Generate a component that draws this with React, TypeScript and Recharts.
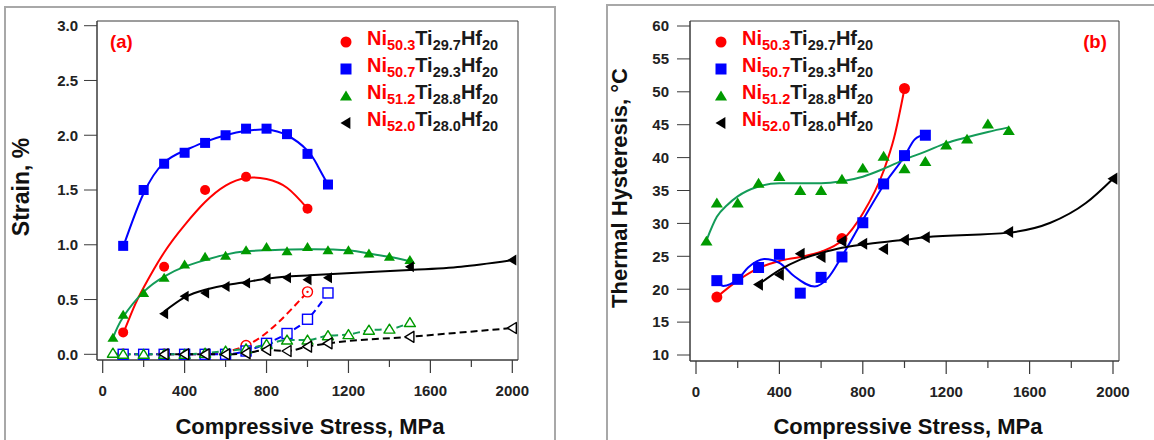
import { ComposedChart, Legend, Line, ReferenceArea, Scatter, XAxis, YAxis } from "recharts";

type Pair = [number, number];
type Kind = "circle" | "square" | "triangle" | "left";

const FONT = "'Liberation Sans', Arial, sans-serif";
const AXIS = "#3a3a3a";

// shared ticks
const stressTicks = [0, 200, 400, 600, 800, 1000, 1200, 1400, 1600, 1800, 2000];
const strainTicks = [0, 0.5, 1, 1.5, 2, 2.5, 3];
const hysteresisTicks = [10, 15, 20, 25, 30, 35, 40, 45, 50, 55, 60];

// (a) strain vs stress, solid markers = transformation strain, open = irrecoverable
const strain503: Pair[] = [[100, 0.2], [300, 0.8], [500, 1.5], [700, 1.62], [1000, 1.33]];
const strainFit503: Pair[] = [[100, 0.19], [150, 0.42], [200, 0.61], [300, 0.93], [400, 1.18], [500, 1.39], [600, 1.54], [700, 1.61], [800, 1.6], [900, 1.52], [1000, 1.33]];
const irrec503: Pair[] = [[100, 0], [300, 0], [500, 0], [700, 0.08], [1000, 0.57]];

const strain507: Pair[] = [[100, 0.99], [200, 1.5], [300, 1.74], [400, 1.84], [500, 1.93], [600, 2.0], [700, 2.06], [800, 2.06], [900, 2.01], [1000, 1.83], [1100, 1.55]];
const strainFit507: Pair[] = [[100, 0.98], [200, 1.47], [300, 1.75], [400, 1.86], [500, 1.94], [600, 2.0], [700, 2.04], [800, 2.05], [900, 2.0], [1000, 1.86], [1050, 1.72], [1100, 1.55]];
const irrec507: Pair[] = [[100, 0], [200, 0], [300, 0], [400, 0], [500, 0], [600, 0], [700, 0.03], [800, 0.1], [900, 0.19], [1000, 0.32], [1100, 0.56]];

const strain512: Pair[] = [[50, 0.15], [100, 0.36], [200, 0.56], [300, 0.7], [400, 0.82], [500, 0.89], [600, 0.9], [700, 0.95], [800, 0.98], [900, 0.94], [1000, 0.98], [1100, 0.95], [1200, 0.95], [1300, 0.92], [1400, 0.89], [1500, 0.86]];
const strainFit512: Pair[] = [[50, 0.15], [100, 0.34], [200, 0.57], [300, 0.71], [400, 0.8], [500, 0.86], [600, 0.91], [700, 0.94], [800, 0.95], [1000, 0.96], [1200, 0.95], [1300, 0.92], [1400, 0.89], [1500, 0.85]];
const irrec512: Pair[] = [[50, 0.01], [100, 0], [200, 0], [300, 0], [400, 0], [500, 0.01], [600, 0.03], [700, 0.05], [800, 0.09], [900, 0.13], [1000, 0.13], [1100, 0.17], [1200, 0.18], [1300, 0.22], [1400, 0.23], [1500, 0.29]];

const strain520: Pair[] = [[300, 0.37], [400, 0.53], [500, 0.56], [600, 0.62], [700, 0.65], [800, 0.69], [900, 0.7], [1000, 0.68], [1100, 0.7], [1500, 0.8], [2000, 0.86]];
const strainFit520: Pair[] = [[300, 0.39], [400, 0.52], [500, 0.59], [600, 0.63], [700, 0.66], [800, 0.69], [900, 0.71], [1000, 0.72], [1100, 0.73], [1500, 0.77], [1750, 0.8], [2000, 0.86]];
const irrec520: Pair[] = [[300, 0], [400, 0], [500, 0], [600, 0], [700, 0.01], [800, 0.04], [900, 0.03], [1000, 0.07], [1100, 0.1], [1500, 0.16], [2000, 0.24]];

// (b) thermal hysteresis vs stress
const hyst503: Pair[] = [[100, 18.8], [700, 27.7], [1000, 50.5]];
const hystFit503: Pair[] = [[100, 18.8], [200, 21.3], [300, 23.2], [400, 24.3], [500, 24.9], [600, 25.7], [700, 27.4], [800, 31.5], [900, 38.0], [950, 43.0], [1000, 50.5]];

const hyst507: Pair[] = [[100, 21.3], [200, 21.5], [300, 23.3], [400, 25.3], [500, 19.4], [600, 21.8], [700, 24.9], [800, 30.1], [900, 36.0], [1000, 40.3], [1100, 43.4]];
const hystFit507: Pair[] = [[100, 21.3], [130, 20.5], [200, 21.5], [250, 23.3], [330, 24.6], [400, 24.0], [470, 22.0], [570, 20.4], [630, 21.6], [700, 25.0], [800, 30.5], [900, 35.8], [1000, 40.2], [1050, 42.8], [1100, 43.5]];

const hyst512: Pair[] = [[50, 27.3], [100, 33.1], [200, 33.1], [300, 36.1], [400, 37.1], [500, 35.0], [600, 35.0], [700, 36.7], [800, 38.4], [900, 40.2], [1000, 38.3], [1100, 39.4], [1200, 41.9], [1300, 42.8], [1400, 45.1], [1500, 44.1]];
const hystFit512: Pair[] = [[50, 27.4], [100, 31.0], [150, 32.8], [200, 34.1], [300, 35.6], [400, 36.1], [600, 36.1], [700, 36.4], [800, 37.1], [900, 38.3], [1000, 39.7], [1100, 40.9], [1200, 42.2], [1300, 43.1], [1400, 43.9], [1500, 44.6]];

const hyst520: Pair[] = [[300, 20.7], [400, 22.2], [500, 25.4], [600, 24.9], [700, 27.3], [800, 26.9], [900, 26.1], [1000, 27.5], [1100, 27.9], [1500, 28.7], [2000, 36.8]];
const hystFit520: Pair[] = [[300, 20.7], [400, 22.9], [500, 24.5], [600, 25.5], [700, 26.3], [800, 26.8], [1000, 27.5], [1100, 27.9], [1500, 28.6], [1700, 30.1], [1870, 33.1], [2000, 36.8]];

const alloys = [
  { ni: "50.3", ti: "29.7", color: "#ff0000", line: "#ff0000", kind: "circle" as Kind },
  { ni: "50.7", ti: "29.3", color: "#0000ff", line: "#0000ff", kind: "square" as Kind },
  { ni: "51.2", ti: "28.8", color: "#009a00", line: "#139b58", kind: "triangle" as Kind },
  { ni: "52.0", ti: "28.0", color: "#000000", line: "#000000", kind: "left" as Kind },
];

const toPts = (d: Pair[]) => d.map(([x, y]) => ({ x, y }));

const Marker = ({ kind, cx, cy, size, color, open }: { kind: Kind; cx: number; cy: number; size: number; color: string; open?: boolean }) => {
  const h = size / 2;
  const fill = open ? "#fff" : color;
  const sw = open ? 1.4 : 0;
  if (kind === "circle") {
    return (
      <g>
        <circle cx={cx} cy={cy} r={h} fill={fill} stroke={color} strokeWidth={sw} />
        {open && <circle cx={cx} cy={cy} r={1.2} fill={color} />}
      </g>
    );
  }
  if (kind === "square") {
    return <rect x={cx - h} y={cy - h} width={size} height={size} fill={fill} stroke={color} strokeWidth={sw} />;
  }
  if (kind === "triangle") {
    const pts = `${cx},${cy - h} ${cx + h * 1.1},${cy + h * 0.8} ${cx - h * 1.1},${cy + h * 0.8}`;
    return <polygon points={pts} fill={fill} stroke={color} strokeWidth={sw} strokeLinejoin="round" />;
  }
  const pts = `${cx - h},${cy} ${cx + h * 0.8},${cy - h * 1.1} ${cx + h * 0.8},${cy + h * 1.1}`;
  return <polygon points={pts} fill={fill} stroke={color} strokeWidth={sw} strokeLinejoin="round" />;
};

const StressTick = (props: any) => {
  const { x, y, payload } = props;
  const major = payload.value % 400 === 0;
  return (
    <g>
      <line x1={x} x2={x} y1={y} y2={y + (major ? 13 : 7)} stroke={AXIS} strokeWidth={1.2} />
      {major && (
        <text x={x} y={y + 36} textAnchor="middle" fontFamily={FONT} fontSize={15} fontWeight={700} fill="#222">
          {payload.value}
        </text>
      )}
    </g>
  );
};

const LegendBlock = () => (
  <div style={{ fontFamily: FONT, fontWeight: 700 }}>
    {alloys.map((a) => (
      <div key={a.ni} style={{ display: "flex", alignItems: "center", height: 27 }}>
        <svg width={18} height={18} style={{ flex: "none" }}>
          <Marker kind={a.kind} cx={9} cy={9} size={11} color={a.color} />
        </svg>
        <span style={{ marginLeft: 12, fontSize: 20, whiteSpace: "nowrap", lineHeight: "20px", color: "#1a1a1a" }}>
          <span style={{ color: "#ff0000" }}>
            Ni<span style={{ fontSize: 14.5, verticalAlign: "-5px" }}>{a.ni}</span>
          </span>
          Ti<span style={{ fontSize: 14.5, verticalAlign: "-5px" }}>{a.ti}</span>
          Hf<span style={{ fontSize: 14.5, verticalAlign: "-5px" }}>20</span>
        </span>
      </div>
    ))}
  </div>
);

const yTitle = (text: string, x: number, y: number, size: number) => () => (
  <text x={x} y={y} transform={`rotate(-90 ${x} ${y})`} textAnchor="middle" fontFamily={FONT} fontSize={size} fontWeight={700} fill="#111">
    {text}
  </text>
);

const xTitle = (x: number) => () => (
  <text x={x} y={434} textAnchor="middle" fontFamily={FONT} fontSize={22} fontWeight={700} fill="#111">
    Compressive Stress, MPa
  </text>
);

const panelTag = (text: string, x: number, anchor: "start" | "middle") => () => (
  <text x={x} y={48} textAnchor={anchor} fontFamily={FONT} fontSize={18.5} fontWeight={700} fill="#ff0000">
    {text}
  </text>
);

const StrainPanel = () => {
  const solid = [strain503, strain507, strain512, strain520];
  const fits = [strainFit503, strainFit507, strainFit512, strainFit520];
  const open = [irrec503, irrec507, irrec512, irrec520];
  const xDomain: [number, number] = [-27.8, 2027.8];
  const yDomain: [number, number] = [-0.052, 3.043];
  return (
    <ComposedChart width={555} height={440} margin={{ top: 21, right: 37, bottom: 0, left: 0 }}>
      <XAxis
        type="number"
        dataKey="x"
        domain={xDomain}
        ticks={stressTicks}
        interval={0}
        allowDataOverflow
        height={80}
        stroke={AXIS}
        tickLine={false}
        tickSize={0}
        tickMargin={0}
        tick={StressTick}
        label={{ content: xTitle(310) }}
      />
      <YAxis
        type="number"
        dataKey="y"
        domain={yDomain}
        ticks={strainTicks}
        interval={0}
        allowDataOverflow
        width={97}
        stroke={AXIS}
        tickSize={13}
        tickMargin={6}
        tickFormatter={(v: number) => v.toFixed(1)}
        tick={{ fontFamily: FONT, fontSize: 15, fontWeight: 700, fill: "#222" }}
        label={{ content: yTitle("Strain, %", 29, 187, 23) }}
      />
      <ReferenceArea x1={xDomain[0]} x2={xDomain[1]} y1={yDomain[0]} y2={yDomain[1]} fill="none" stroke={AXIS} strokeWidth={1} ifOverflow="visible" label={{ content: panelTag("(a)", 110, "start") }} />
      {alloys.map((a, i) => (
        <Line key={`d${i}`} data={toPts(open[i])} dataKey="y" type="monotone" stroke={a.line} strokeWidth={2} strokeDasharray="7 4" dot={false} activeDot={false} isAnimationActive={false} />
      ))}
      {alloys.map((a, i) => (
        <Scatter key={`o${i}`} data={toPts(open[i])} isAnimationActive={false} shape={(p: any) => <Marker kind={a.kind} cx={p.cx} cy={p.cy} size={10} color={a.color} open />} />
      ))}
      {alloys.map((a, i) => (
        <Line key={`f${i}`} data={toPts(fits[i])} dataKey="y" type="natural" stroke={a.line} strokeWidth={2} dot={false} activeDot={false} isAnimationActive={false} />
      ))}
      {alloys.map((a, i) => (
        <Scatter key={`s${i}`} data={toPts(solid[i])} isAnimationActive={false} shape={(p: any) => <Marker kind={a.kind} cx={p.cx} cy={p.cy} size={10} color={a.color} />} />
      ))}
      <Legend layout="vertical" align="center" verticalAlign="middle" content={<LegendBlock />} wrapperStyle={{ left: 337, top: 28, width: "auto", height: "auto" }} />
    </ComposedChart>
  );
};

const HysteresisPanel = () => {
  const solid = [hyst503, hyst507, hyst512, hyst520];
  const fits = [hystFit503, hystFit507, hystFit512, hystFit520];
  const xDomain: [number, number] = [-28.8, 2028.8];
  const yDomain: [number, number] = [9.09, 60.76];
  return (
    <ComposedChart width={554} height={440} margin={{ top: 21, right: 35, bottom: 0, left: 0 }}>
      <XAxis
        type="number"
        dataKey="x"
        domain={xDomain}
        ticks={stressTicks}
        interval={0}
        allowDataOverflow
        height={79}
        stroke={AXIS}
        tickLine={false}
        tickSize={0}
        tickMargin={0}
        tick={StressTick}
        label={{ content: xTitle(308) }}
      />
      <YAxis
        type="number"
        dataKey="y"
        domain={yDomain}
        ticks={hysteresisTicks}
        interval={0}
        allowDataOverflow
        width={90}
        stroke={AXIS}
        tickSize={13}
        tickMargin={8}
        tick={{ fontFamily: FONT, fontSize: 15, fontWeight: 700, fill: "#222" }}
        label={{ content: yTitle("Thermal Hysteresis, °C", 27, 188, 22) }}
      />
      <ReferenceArea x1={xDomain[0]} x2={xDomain[1]} y1={yDomain[0]} y2={yDomain[1]} fill="none" stroke={AXIS} strokeWidth={1} ifOverflow="visible" label={{ content: panelTag("(b)", 495, "middle") }} />
      {alloys.map((a, i) => (
        <Line key={`f${i}`} data={toPts(fits[i])} dataKey="y" type="monotone" stroke={a.line} strokeWidth={2} dot={false} activeDot={false} isAnimationActive={false} />
      ))}
      {alloys.map((a, i) => (
        <Scatter key={`s${i}`} data={toPts(solid[i])} isAnimationActive={false} shape={(p: any) => <Marker kind={a.kind} cx={p.cx} cy={p.cy} size={11} color={a.color} />} />
      ))}
      <Legend layout="vertical" align="center" verticalAlign="middle" content={<LegendBlock />} wrapperStyle={{ left: 112, top: 28, width: "auto", height: "auto" }} />
    </ComposedChart>
  );
};

export default function App() {
  return (
    <div style={{ position: "absolute", left: 0, top: 0, width: 1154, height: 440, background: "#fff", overflow: "hidden" }}>
      <div style={{ position: "absolute", left: 4, top: 6, width: 552, height: 470, border: "2px solid #a8a8a8", boxSizing: "border-box" }} />
      <div style={{ position: "absolute", left: 606, top: 4, width: 560, height: 470, border: "2px solid #a8a8a8", boxSizing: "border-box" }} />
      <div style={{ position: "absolute", left: 0, top: 0 }}>
        <StrainPanel />
      </div>
      <div style={{ position: "absolute", left: 600, top: 0 }}>
        <HysteresisPanel />
      </div>
    </div>
  );
}
